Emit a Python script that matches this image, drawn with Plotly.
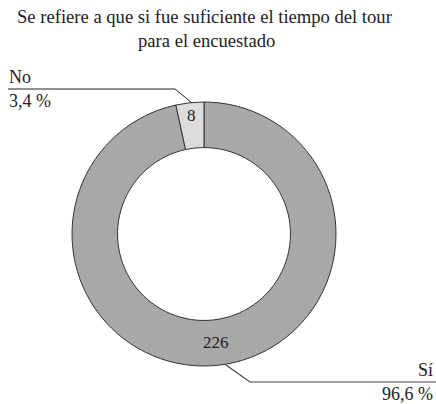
import plotly.graph_objects as go

labels = ["Sí", "No"]
values = [226, 8]
colors = ["#a7a8aa", "#dcdcdc"]
title_lines = ["Se refiere a que si fue suficiente el tiempo del tour", "para el encuestado"]

W, H = 436, 404
FONT = "Liberation Serif"
total = sum(values)
pcts = [f"{v / total * 100:.1f}".replace(".", ",") + " %" for v in values]

def px(x):
    return x / W

def py(y):
    return 1 - y / H

fig = go.Figure(go.Pie(
    labels=labels,
    values=values,
    sort=False,
    direction="clockwise",
    rotation=0,
    hole=0.655,
    marker=dict(colors=colors, line=dict(color="#333333", width=1)),
    textinfo="value",
    textposition="inside",
    insidetextorientation="horizontal",
    textfont=dict(family=FONT, size=17, color="#222222"),
    domain=dict(x=[px(72), px(336)], y=[py(366), py(102)]),
    showlegend=False,
))

shapes = [
    dict(type="path", xref="paper", yref="paper",
         path=f"M {px(8)} {py(89)} L {px(175)} {py(89)} L {px(192)} {py(103)}",
         line=dict(color="#222222", width=1)),
    dict(type="path", xref="paper", yref="paper",
         path=f"M {px(226)} {py(365)} L {px(250)} {py(382)} L {px(436)} {py(382)}",
         line=dict(color="#444444", width=1.2)),
]

def ann(text, x, y, anchor, size):
    return dict(text=text, x=px(x), y=py(y), xref="paper", yref="paper",
                showarrow=False, xanchor=anchor, yanchor="middle",
                font=dict(family=FONT, size=size, color="#222222"))

annotations = [
    ann(title_lines[0], 205, 16, "center", 18.6),
    ann(title_lines[1], 206, 41, "center", 18.6),
    ann(labels[1], 7, 77, "left", 18),
    ann(pcts[1], 7, 101, "left", 18),
    ann(labels[0], 435, 370, "right", 18),
    ann(pcts[0], 435, 394, "right", 18),
]

fig.update_layout(
    width=W, height=H,
    margin=dict(l=0, r=0, t=0, b=0),
    paper_bgcolor="white",
    plot_bgcolor="white",
    font=dict(family=FONT),
    shapes=shapes,
    annotations=annotations,
)

fig.write_html("out.html", config={"displayModeBar": False},
               post_script="document.body.style.margin='0';document.body.style.overflow='hidden';")
